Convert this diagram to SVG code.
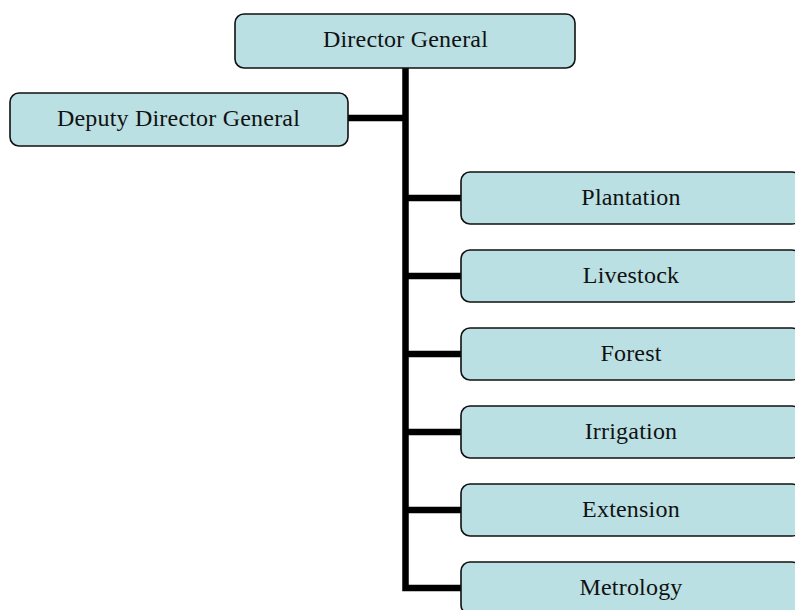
<svg xmlns="http://www.w3.org/2000/svg" width="795" height="610" viewBox="0 0 795 610">
  <style>
    .box { fill: #bae0e3; stroke: #111; stroke-width: 1.6; }
    .label { font-family: "Liberation Serif", "Times New Roman", serif; font-size: 24px; letter-spacing: 0.2px; fill: #111; text-anchor: middle; }
    .wire { fill: none; stroke: #000; stroke-width: 6.5; stroke-linejoin: miter; stroke-linecap: butt; }
  </style>
  <rect width="795" height="610" fill="#fff"/>

  <g id="connectors">
    <path class="wire" d="M405.5 68 V588 H461"/>
    <path class="wire" d="M348 118 H405.5"/>
    <path class="wire" d="M405.5 198 H461"/>
    <path class="wire" d="M405.5 276 H461"/>
    <path class="wire" d="M405.5 354 H461"/>
    <path class="wire" d="M405.5 432 H461"/>
    <path class="wire" d="M405.5 510 H461"/>
  </g>

  <g id="director-general">
    <rect class="box" x="235" y="14" width="340" height="54" rx="9"/>
    <text class="label" x="405.5" y="47">Director General</text>
  </g>

  <g id="deputy-director-general">
    <rect class="box" x="10" y="93" width="338" height="53" rx="9"/>
    <text class="label" x="178.5" y="126">Deputy Director General</text>
  </g>

  <g id="plantation">
    <rect class="box" x="461" y="172" width="340" height="52" rx="9"/>
    <text class="label" x="631" y="205">Plantation</text>
  </g>

  <g id="livestock">
    <rect class="box" x="461" y="250" width="340" height="52" rx="9"/>
    <text class="label" x="631" y="283">Livestock</text>
  </g>

  <g id="forest">
    <rect class="box" x="461" y="328" width="340" height="52" rx="9"/>
    <text class="label" x="631" y="361">Forest</text>
  </g>

  <g id="irrigation">
    <rect class="box" x="461" y="406" width="340" height="52" rx="9"/>
    <text class="label" x="631" y="439">Irrigation</text>
  </g>

  <g id="extension">
    <rect class="box" x="461" y="484" width="340" height="52" rx="9"/>
    <text class="label" x="631" y="517">Extension</text>
  </g>

  <g id="metrology">
    <rect class="box" x="461" y="562" width="340" height="52" rx="9"/>
    <text class="label" x="631" y="595">Metrology</text>
  </g>
</svg>
